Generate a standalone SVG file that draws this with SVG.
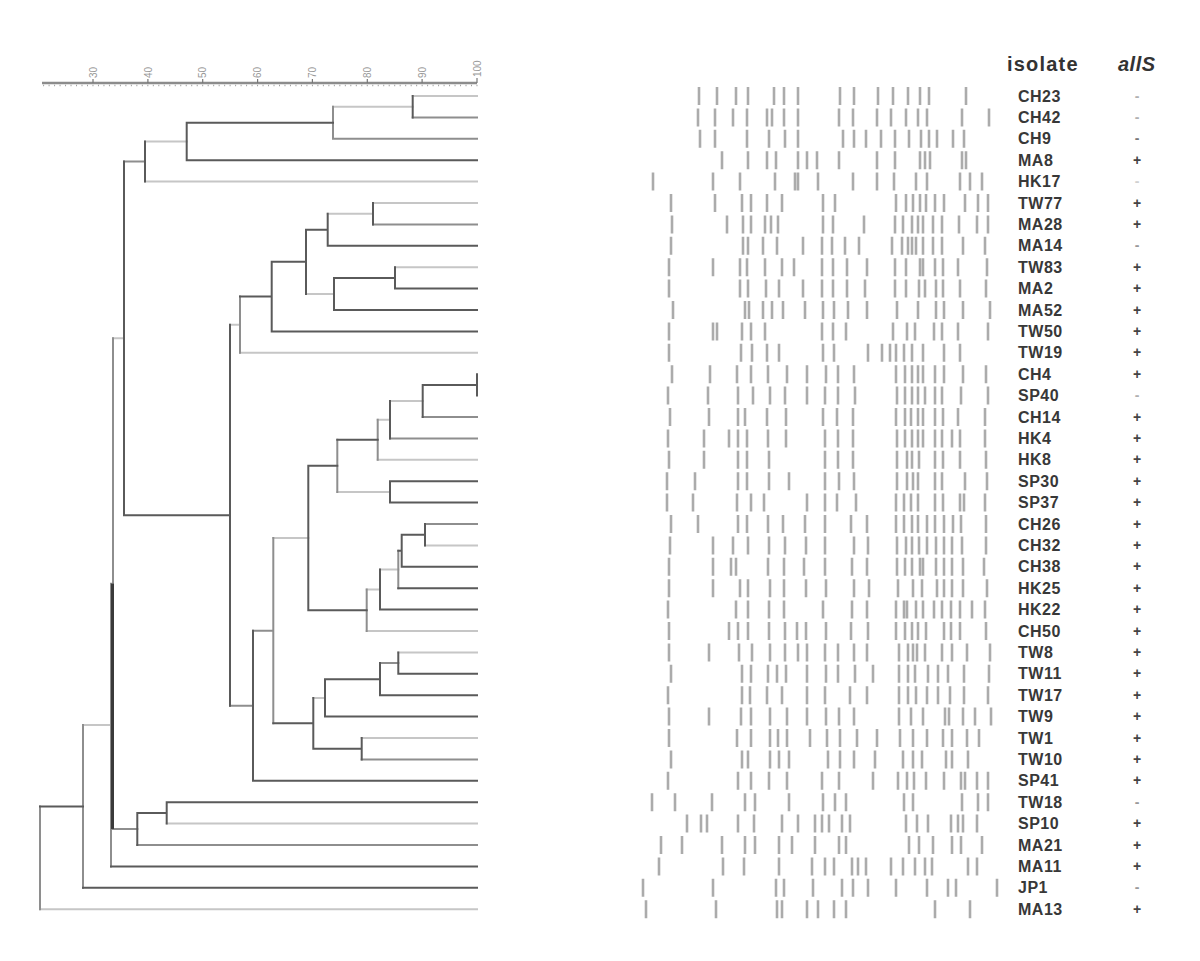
<svg xmlns="http://www.w3.org/2000/svg" width="1200" height="961" viewBox="0 0 1200 961">
<style>
.bg{fill:#fff}
.ln{fill:none;stroke-linecap:square;stroke-width:2}
.l{stroke:#c6c6c6}
.m{stroke:#8e8e8e}
.d{stroke:#5a5a5a}
.b{fill:none;stroke:#ababab;stroke-width:2.6}
.n{font-family:"Liberation Sans",Arial,sans-serif;font-weight:bold;font-size:16px;letter-spacing:0.5px;fill:#383838}
.a{font-family:"Liberation Sans",Arial,sans-serif;font-weight:bold;font-size:14px;fill:#444;text-anchor:middle}
.a.g1{fill:#b0b0b0}.a.g2{fill:#777}.a.g3{fill:#d0d0d0}.a.g4{fill:#999}
.h{font-family:"Liberation Sans",Arial,sans-serif;font-weight:bold;font-size:20px;fill:#333}
.s{font-family:"Liberation Sans",Arial,sans-serif;font-size:10px;fill:#999}
</style>
<rect class="bg" x="0" y="0" width="1200" height="961"/>
<g id="scale">
<line x1="42" y1="83" x2="477" y2="83" stroke="#8c8c8c" stroke-width="2.5"/>
<line x1="43.1" y1="85.6" x2="477.5" y2="85.6" stroke="#a0a0a0" stroke-width="1.5" stroke-dasharray="1 4.486"/>
<path d="M93 79V83M147.9 79V83M202.7 79V83M257.6 79V83M312.4 79V83M367.3 79V83M422.1 79V83M477 78V83" stroke="#777" stroke-width="1.2" fill="none"/>
<text class="s" transform="translate(96.6,78) rotate(-90)">30</text>
<text class="s" transform="translate(151.5,78) rotate(-90)">40</text>
<text class="s" transform="translate(206.3,78) rotate(-90)">50</text>
<text class="s" transform="translate(261.2,78) rotate(-90)">60</text>
<text class="s" transform="translate(316,78) rotate(-90)">70</text>
<text class="s" transform="translate(370.9,78) rotate(-90)">80</text>
<text class="s" transform="translate(425.7,78) rotate(-90)">90</text>
<text class="s" transform="translate(480.6,77) rotate(-90)">100</text>
</g>
<g id="connectors">
<path class="ln l" d="M333 106.7H412.7M145 141.5H186.7M113 338.35H124M327.7 213.7H373M306 293.95H334M230 324.7H240M390 400.95H422.7M377.7 419.7H390M337.3 491.9H390M380 569.5H398.3M366.7 589.55H380M273.3 538.05H308.3M313.3 697.9H325M83 725H111M412.7 96H477M145 181.6H477M373 203H477M395 267.2H477M240 352.8H477M377.7 459.8H477M425 545.4H477M366.7 631H477M398.3 652.4H477M361.7 738H477M166.7 823.6H477M40 909.2H477"/>
<path class="ln m" d="M333 106.7V138.8M124 161.5H145M240 296.6V352.8M377.7 419.7V459.8M337.3 439.75V491.9M398.3 550.75V588.2M366.7 589.55V631M380 663.1H398.3M273.3 538.05V723.3M253 630.7H273.3M230 705.75H253M113 828.95H137.3M113 338.35V583.65M111 583.65V866.4M83 725V887.8M40 806.4V909.2M412.7 117.4H477M333 138.8H477M373 224.4H477M422.7 417H477M390 438.4H477M425 524H477M361.7 759.4H477M137.3 845H477"/>
<path class="ln d" d="M412.7 96V117.4M186.7 122.75H333M186.7 122.75V160.2M145 141.5V181.6M124 161.5V515.2M373 203V224.4M327.7 213.7V245.8M306 229.75H327.7M395 267.2V288.6M334 277.9H395M334 277.9V310M306 229.75V293.95M271.7 261.85H306M271.7 261.85V331.4M240 296.6H271.7M477 374.2V395.6M422.7 384.9H477M422.7 384.9V417M390 400.95V438.4M337.3 439.75H377.7M390 481.2V502.6M308.3 465.8H337.3M425 524V545.4M401.7 534.7H425M401.7 534.7V566.8M398.3 550.75H401.7M380 569.5V609.6M308.3 610.3H366.7M308.3 465.8V610.3M398.3 652.4V673.8M380 663.1V695.2M325 679.15H380M325 679.15V716.6M361.7 738V759.4M313.3 748.7H361.7M313.3 697.9V748.7M273.3 723.3H313.3M253 630.7V780.8M230 324.7V705.75M124 515.2H230M166.7 802.2V823.6M137.3 812.9H166.7M137.3 812.9V845M40 806.4H83M186.7 160.2H477M327.7 245.8H477M395 288.6H477M334 310H477M271.7 331.4H477M390 481.2H477M390 502.6H477M401.7 566.8H477M398.3 588.2H477M380 609.6H477M398.3 673.8H477M380 695.2H477M325 716.6H477M253 780.8H477M166.7 802.2H477M111 866.4H477M83 887.8H477"/>
<path d="M112.5 583.65V828.95" fill="none" stroke="#3a3a3a" stroke-width="3"/>
</g>
<g id="header">
<text class="h" x="1007" y="71" letter-spacing="1.2">isolate</text>
<text class="h" x="1118" y="71" font-style="italic" letter-spacing="0.5">allS</text>
</g>
<g id="CH23" transform="translate(0,87)"><path class="b" d="M699 0v18M717 0v18M736 0v18M748 0v18M774 0v18M784 0v18M798 0v18M840 0v18M854 0v18M878 0v18M893 0v18M908 0v18M920 0v18M929 0v18M966 0v18"/><text class="n" x="1018" y="14.5">CH23</text><text class="a g1" x="1137" y="13.5">-</text></g>
<g id="CH42" transform="translate(0,108.4)"><path class="b" d="M698 0v18M715 0v18M733 0v18M747 0v18M767 0v18M772 0v18M784 0v18M798 0v18M839 0v18M853 0v18M877 0v18M891 0v18M906 0v18M918 0v18M927 0v18M962 0v18M989 0v18"/><text class="n" x="1018" y="14.5">CH42</text><text class="a g1" x="1137" y="13.5">-</text></g>
<g id="CH9" transform="translate(0,129.8)"><path class="b" d="M700 0v18M715 0v18M747 0v18M769 0v18M785 0v18M798 0v18M843 0v18M854 0v18M866 0v18M881 0v18M895 0v18M909 0v18M921 0v18M929 0v18M937 0v18M953 0v18M964 0v18"/><text class="n" x="1018" y="14.5">CH9</text><text class="a g2" x="1137" y="13.5">-</text></g>
<g id="MA8" transform="translate(0,151.2)"><path class="b" d="M722 0v18M748 0v18M767 0v18M776 0v18M798 0v18M807 0v18M817 0v18M839 0v18M877 0v18M895 0v18M920 0v18M925 0v18M930 0v18M962 0v18M966 0v18"/><text class="n" x="1018" y="14.5">MA8</text><text class="a" x="1137" y="13.5">+</text></g>
<g id="HK17" transform="translate(0,172.6)"><path class="b" d="M653 0v18M713 0v18M740 0v18M775 0v18M795 0v18M798 0v18M818 0v18M853 0v18M877 0v18M894 0v18M916 0v18M927 0v18M960 0v18M970 0v18M982 0v18"/><text class="n" x="1018" y="14.5">HK17</text><text class="a g3" x="1137" y="13.5">-</text></g>
<g id="TW77" transform="translate(0,194)"><path class="b" d="M671 0v18M715 0v18M742 0v18M751 0v18M767 0v18M782 0v18M823 0v18M835 0v18M896 0v18M906 0v18M913 0v18M920 0v18M926 0v18M935 0v18M944 0v18M965 0v18M978 0v18M988 0v18"/><text class="n" x="1018" y="14.5">TW77</text><text class="a" x="1137" y="13.5">+</text></g>
<g id="MA28" transform="translate(0,215.4)"><path class="b" d="M672 0v18M727 0v18M743 0v18M751 0v18M765 0v18M771 0v18M778 0v18M823 0v18M833 0v18M864 0v18M895 0v18M903 0v18M912 0v18M918 0v18M923 0v18M933 0v18M942 0v18M959 0v18M977 0v18M988 0v18"/><text class="n" x="1018" y="14.5">MA28</text><text class="a" x="1137" y="13.5">+</text></g>
<g id="MA14" transform="translate(0,236.8)"><path class="b" d="M671 0v18M743 0v18M748 0v18M763 0v18M777 0v18M803 0v18M822 0v18M832 0v18M845 0v18M859 0v18M892 0v18M902 0v18M908 0v18M912 0v18M916 0v18M923 0v18M933 0v18M942 0v18M963 0v18M985 0v18"/><text class="n" x="1018" y="14.5">MA14</text><text class="a g4" x="1137" y="13.5">-</text></g>
<g id="TW83" transform="translate(0,258.2)"><path class="b" d="M669 0v18M713 0v18M740 0v18M747 0v18M765 0v18M782 0v18M794 0v18M822 0v18M833 0v18M847 0v18M867 0v18M895 0v18M906 0v18M920 0v18M923 0v18M935 0v18M943 0v18M958 0v18M987 0v18"/><text class="n" x="1018" y="14.5">TW83</text><text class="a" x="1137" y="13.5">+</text></g>
<g id="MA2" transform="translate(0,279.6)"><path class="b" d="M669 0v18M740 0v18M748 0v18M766 0v18M779 0v18M803 0v18M822 0v18M833 0v18M847 0v18M865 0v18M895 0v18M906 0v18M919 0v18M925 0v18M936 0v18M943 0v18M960 0v18M986 0v18"/><text class="n" x="1018" y="14.5">MA2</text><text class="a" x="1137" y="13.5">+</text></g>
<g id="MA52" transform="translate(0,301)"><path class="b" d="M673 0v18M745 0v18M749 0v18M763 0v18M772 0v18M783 0v18M805 0v18M823 0v18M834 0v18M848 0v18M867 0v18M897 0v18M918 0v18M936 0v18M944 0v18M963 0v18M990 0v18"/><text class="n" x="1018" y="14.5">MA52</text><text class="a" x="1137" y="13.5">+</text></g>
<g id="TW50" transform="translate(0,322.4)"><path class="b" d="M669 0v18M713 0v18M717 0v18M742 0v18M751 0v18M765 0v18M822 0v18M833 0v18M846 0v18M893 0v18M907 0v18M915 0v18M934 0v18M942 0v18M958 0v18M988 0v18"/><text class="n" x="1018" y="14.5">TW50</text><text class="a" x="1137" y="13.5">+</text></g>
<g id="TW19" transform="translate(0,343.8)"><path class="b" d="M669 0v18M741 0v18M752 0v18M767 0v18M779 0v18M823 0v18M834 0v18M868 0v18M882 0v18M890 0v18M896 0v18M904 0v18M912 0v18M923 0v18M944 0v18M960 0v18"/><text class="n" x="1018" y="14.5">TW19</text><text class="a" x="1137" y="13.5">+</text></g>
<g id="CH4" transform="translate(0,365.2)"><path class="b" d="M672 0v18M710 0v18M737 0v18M751 0v18M768 0v18M787 0v18M807 0v18M826 0v18M838 0v18M854 0v18M896 0v18M905 0v18M912 0v18M918 0v18M923 0v18M935 0v18M944 0v18M963 0v18M986 0v18"/><text class="n" x="1018" y="14.5">CH4</text><text class="a" x="1137" y="13.5">+</text></g>
<g id="SP40" transform="translate(0,386.6)"><path class="b" d="M668 0v18M708 0v18M738 0v18M753 0v18M770 0v18M785 0v18M807 0v18M825 0v18M838 0v18M855 0v18M897 0v18M905 0v18M912 0v18M918 0v18M925 0v18M935 0v18M942 0v18M961 0v18M988 0v18"/><text class="n" x="1018" y="14.5">SP40</text><text class="a g1" x="1137" y="13.5">-</text></g>
<g id="CH14" transform="translate(0,408)"><path class="b" d="M670 0v18M709 0v18M738 0v18M745 0v18M767 0v18M786 0v18M823 0v18M837 0v18M853 0v18M896 0v18M905 0v18M911 0v18M918 0v18M923 0v18M935 0v18M943 0v18M958 0v18M985 0v18"/><text class="n" x="1018" y="14.5">CH14</text><text class="a" x="1137" y="13.5">+</text></g>
<g id="HK4" transform="translate(0,429.4)"><path class="b" d="M668 0v18M704 0v18M729 0v18M738 0v18M747 0v18M768 0v18M786 0v18M825 0v18M838 0v18M853 0v18M897 0v18M905 0v18M912 0v18M918 0v18M923 0v18M935 0v18M942 0v18M952 0v18M960 0v18M985 0v18"/><text class="n" x="1018" y="14.5">HK4</text><text class="a" x="1137" y="13.5">+</text></g>
<g id="HK8" transform="translate(0,450.8)"><path class="b" d="M669 0v18M704 0v18M738 0v18M747 0v18M769 0v18M825 0v18M838 0v18M853 0v18M897 0v18M907 0v18M912 0v18M919 0v18M935 0v18M943 0v18M960 0v18M986 0v18"/><text class="n" x="1018" y="14.5">HK8</text><text class="a" x="1137" y="13.5">+</text></g>
<g id="SP30" transform="translate(0,472.2)"><path class="b" d="M667 0v18M695 0v18M738 0v18M747 0v18M769 0v18M789 0v18M825 0v18M839 0v18M854 0v18M897 0v18M907 0v18M913 0v18M918 0v18M935 0v18M942 0v18M965 0v18M987 0v18"/><text class="n" x="1018" y="14.5">SP30</text><text class="a" x="1137" y="13.5">+</text></g>
<g id="SP37" transform="translate(0,493.6)"><path class="b" d="M667 0v18M693 0v18M737 0v18M751 0v18M764 0v18M807 0v18M825 0v18M837 0v18M856 0v18M896 0v18M904 0v18M911 0v18M918 0v18M935 0v18M943 0v18M960 0v18M964 0v18M985 0v18"/><text class="n" x="1018" y="14.5">SP37</text><text class="a" x="1137" y="13.5">+</text></g>
<g id="CH26" transform="translate(0,515)"><path class="b" d="M671 0v18M698 0v18M738 0v18M747 0v18M768 0v18M783 0v18M805 0v18M825 0v18M851 0v18M867 0v18M896 0v18M904 0v18M912 0v18M918 0v18M927 0v18M935 0v18M944 0v18M953 0v18M961 0v18M986 0v18"/><text class="n" x="1018" y="14.5">CH26</text><text class="a" x="1137" y="13.5">+</text></g>
<g id="CH32" transform="translate(0,536.4)"><path class="b" d="M670 0v18M713 0v18M733 0v18M748 0v18M769 0v18M785 0v18M806 0v18M825 0v18M854 0v18M868 0v18M897 0v18M906 0v18M912 0v18M919 0v18M927 0v18M936 0v18M944 0v18M952 0v18M962 0v18M986 0v18"/><text class="n" x="1018" y="14.5">CH32</text><text class="a" x="1137" y="13.5">+</text></g>
<g id="CH38" transform="translate(0,557.8)"><path class="b" d="M669 0v18M713 0v18M731 0v18M736 0v18M768 0v18M784 0v18M804 0v18M825 0v18M852 0v18M867 0v18M897 0v18M905 0v18M912 0v18M920 0v18M923 0v18M936 0v18M944 0v18M952 0v18M963 0v18M984 0v18"/><text class="n" x="1018" y="14.5">CH38</text><text class="a" x="1137" y="13.5">+</text></g>
<g id="HK25" transform="translate(0,579.2)"><path class="b" d="M669 0v18M713 0v18M740 0v18M748 0v18M770 0v18M784 0v18M806 0v18M826 0v18M854 0v18M869 0v18M898 0v18M913 0v18M922 0v18M937 0v18M944 0v18M952 0v18M963 0v18M987 0v18"/><text class="n" x="1018" y="14.5">HK25</text><text class="a" x="1137" y="13.5">+</text></g>
<g id="HK22" transform="translate(0,600.6)"><path class="b" d="M668 0v18M736 0v18M748 0v18M769 0v18M784 0v18M823 0v18M852 0v18M867 0v18M896 0v18M904 0v18M907 0v18M916 0v18M923 0v18M934 0v18M942 0v18M951 0v18M960 0v18M972 0v18M985 0v18"/><text class="n" x="1018" y="14.5">HK22</text><text class="a" x="1137" y="13.5">+</text></g>
<g id="CH50" transform="translate(0,622)"><path class="b" d="M669 0v18M729 0v18M738 0v18M748 0v18M769 0v18M785 0v18M797 0v18M806 0v18M826 0v18M851 0v18M868 0v18M896 0v18M905 0v18M912 0v18M918 0v18M926 0v18M944 0v18M951 0v18M960 0v18M986 0v18"/><text class="n" x="1018" y="14.5">CH50</text><text class="a" x="1137" y="13.5">+</text></g>
<g id="TW8" transform="translate(0,643.4)"><path class="b" d="M669 0v18M709 0v18M739 0v18M752 0v18M770 0v18M785 0v18M798 0v18M807 0v18M825 0v18M838 0v18M854 0v18M867 0v18M899 0v18M908 0v18M913 0v18M917 0v18M925 0v18M942 0v18M952 0v18M967 0v18M990 0v18"/><text class="n" x="1018" y="14.5">TW8</text><text class="a" x="1137" y="13.5">+</text></g>
<g id="TW11" transform="translate(0,664.8)"><path class="b" d="M671 0v18M742 0v18M751 0v18M768 0v18M777 0v18M786 0v18M807 0v18M826 0v18M838 0v18M855 0v18M873 0v18M899 0v18M908 0v18M915 0v18M928 0v18M938 0v18M948 0v18M964 0v18M989 0v18"/><text class="n" x="1018" y="14.5">TW11</text><text class="a" x="1137" y="13.5">+</text></g>
<g id="TW17" transform="translate(0,686.2)"><path class="b" d="M668 0v18M742 0v18M750 0v18M767 0v18M782 0v18M807 0v18M825 0v18M850 0v18M867 0v18M899 0v18M908 0v18M916 0v18M927 0v18M938 0v18M950 0v18M964 0v18M988 0v18"/><text class="n" x="1018" y="14.5">TW17</text><text class="a" x="1137" y="13.5">+</text></g>
<g id="TW9" transform="translate(0,707.6)"><path class="b" d="M669 0v18M709 0v18M741 0v18M751 0v18M770 0v18M787 0v18M807 0v18M826 0v18M839 0v18M854 0v18M899 0v18M911 0v18M923 0v18M945 0v18M949 0v18M963 0v18M975 0v18M991 0v18"/><text class="n" x="1018" y="14.5">TW9</text><text class="a" x="1137" y="13.5">+</text></g>
<g id="TW1" transform="translate(0,729)"><path class="b" d="M669 0v18M737 0v18M751 0v18M770 0v18M778 0v18M787 0v18M810 0v18M827 0v18M840 0v18M857 0v18M877 0v18M900 0v18M913 0v18M927 0v18M943 0v18M952 0v18M967 0v18M979 0v18"/><text class="n" x="1018" y="14.5">TW1</text><text class="a" x="1137" y="13.5">+</text></g>
<g id="TW10" transform="translate(0,750.4)"><path class="b" d="M671 0v18M742 0v18M748 0v18M770 0v18M779 0v18M789 0v18M828 0v18M840 0v18M854 0v18M875 0v18M903 0v18M913 0v18M922 0v18M946 0v18M952 0v18M968 0v18"/><text class="n" x="1018" y="14.5">TW10</text><text class="a" x="1137" y="13.5">+</text></g>
<g id="SP41" transform="translate(0,771.8)"><path class="b" d="M668 0v18M738 0v18M751 0v18M769 0v18M787 0v18M822 0v18M839 0v18M873 0v18M898 0v18M907 0v18M914 0v18M926 0v18M944 0v18M961 0v18M965 0v18M977 0v18M988 0v18"/><text class="n" x="1018" y="14.5">SP41</text><text class="a" x="1137" y="13.5">+</text></g>
<g id="TW18" transform="translate(0,793.2)"><path class="b" d="M652 0v18M675 0v18M712 0v18M745 0v18M755 0v18M789 0v18M823 0v18M835 0v18M846 0v18M904 0v18M913 0v18M962 0v18M978 0v18M988 0v18"/><text class="n" x="1018" y="14.5">TW18</text><text class="a g4" x="1137" y="13.5">-</text></g>
<g id="SP10" transform="translate(0,814.6)"><path class="b" d="M687 0v18M701 0v18M707 0v18M738 0v18M754 0v18M782 0v18M798 0v18M815 0v18M822 0v18M829 0v18M842 0v18M850 0v18M906 0v18M917 0v18M928 0v18M951 0v18M958 0v18M963 0v18M977 0v18"/><text class="n" x="1018" y="14.5">SP10</text><text class="a" x="1137" y="13.5">+</text></g>
<g id="MA21" transform="translate(0,836)"><path class="b" d="M661 0v18M682 0v18M722 0v18M745 0v18M755 0v18M779 0v18M792 0v18M815 0v18M839 0v18M846 0v18M909 0v18M919 0v18M933 0v18M952 0v18M961 0v18M982 0v18"/><text class="n" x="1018" y="14.5">MA21</text><text class="a" x="1137" y="13.5">+</text></g>
<g id="MA11" transform="translate(0,857.4)"><path class="b" d="M659 0v18M723 0v18M744 0v18M779 0v18M812 0v18M825 0v18M834 0v18M852 0v18M858 0v18M866 0v18M891 0v18M903 0v18M915 0v18M925 0v18M932 0v18M968 0v18M977 0v18"/><text class="n" x="1018" y="14.5">MA11</text><text class="a" x="1137" y="13.5">+</text></g>
<g id="JP1" transform="translate(0,878.8)"><path class="b" d="M643 0v18M713 0v18M776 0v18M784 0v18M813 0v18M842 0v18M853 0v18M868 0v18M896 0v18M927 0v18M948 0v18M956 0v18M997 0v18"/><text class="n" x="1018" y="14.5">JP1</text><text class="a g4" x="1137" y="13.5">-</text></g>
<g id="MA13" transform="translate(0,900.2)"><path class="b" d="M646 0v18M716 0v18M777 0v18M782 0v18M807 0v18M818 0v18M834 0v18M846 0v18M935 0v18M970 0v18"/><text class="n" x="1018" y="14.5">MA13</text><text class="a" x="1137" y="13.5">+</text></g>
</svg>
